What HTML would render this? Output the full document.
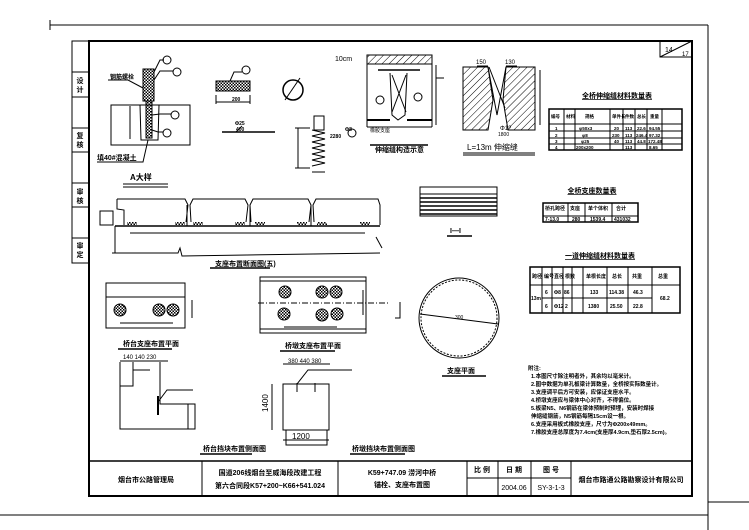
<!DOCTYPE html>
<html><head><meta charset="utf-8"><style>
html,body{margin:0;padding:0;background:#fff;}
svg{display:block;font-family:"Liberation Sans","Noto Sans CJK SC",sans-serif;}
text{fill:#000;}
.b{font-weight:bold;}
</style></head><body>
<svg width="749" height="530" viewBox="0 0 749 530" xmlns="http://www.w3.org/2000/svg">
<defs>
<pattern id="h" width="5" height="5" patternUnits="userSpaceOnUse" patternTransform="rotate(45)"><line x1="0" y1="0" x2="0" y2="5" stroke="#000" stroke-width="1"/></pattern>
<pattern id="x" width="3" height="3" patternUnits="userSpaceOnUse"><rect width="3" height="3" fill="#fff"/><rect width="1.5" height="1.5" fill="#000"/><rect x="1.5" y="1.5" width="1.5" height="1.5" fill="#000"/></pattern>
</defs>
<rect width="749" height="530" fill="#fff"/>
<g stroke="#000" stroke-width="1" fill="none">
<line x1="50" y1="25" x2="708" y2="25"/>
<line x1="50" y1="20" x2="50" y2="30"/>
<line x1="708" y1="25" x2="708" y2="530"/>
<line x1="0" y1="515" x2="708" y2="515"/>
<line x1="708" y1="502" x2="749" y2="502"/>
</g>
<rect x="89" y="41" width="603" height="455" fill="none" stroke="#000" stroke-width="2"/>
<g stroke="#000" stroke-width="1" fill="none">
<rect x="72" y="41" width="17" height="222"/>
<line x1="72" y1="72" x2="89" y2="72"/><line x1="72" y1="97" x2="89" y2="97"/>
<line x1="72" y1="128" x2="89" y2="128"/><line x1="72" y1="152" x2="89" y2="152"/>
<line x1="72" y1="183" x2="89" y2="183"/><line x1="72" y1="207" x2="89" y2="207"/>
<line x1="72" y1="238" x2="89" y2="238"/>
</g>
<g font-size="7" class="b" text-anchor="middle">
<text x="80" y="83">设</text><text x="80" y="92">计</text>
<text x="80" y="138">复</text><text x="80" y="147">核</text>
<text x="80" y="194">审</text><text x="80" y="203">核</text>
<text x="80" y="248">审</text><text x="80" y="257">定</text>
</g>
<rect x="660" y="41" width="32" height="16" fill="none" stroke="#000"/>
<line x1="660" y1="57" x2="692" y2="41" stroke="#000"/>
<text x="665" y="52" font-size="7">14</text><text x="682" y="56" font-size="6">17</text>

<g stroke="#000" fill="none" stroke-width="1">
<rect x="143" y="69" width="11" height="32" fill="url(#x)"/>
<rect x="146" y="101" width="6" height="37" fill="url(#x)"/>
<rect x="111" y="105" width="79" height="40"/>
<polyline points="140,105 141,140 158,140 159,105"/>
<line x1="130" y1="106" x2="130" y2="139"/>
<polyline points="154,72 160,60 164,60"/><circle cx="167" cy="60" r="4"/>
<polyline points="154,80 160,71 173,71"/><circle cx="177" cy="72" r="4"/>
<polyline points="152,115 160,114 171,114"/><circle cx="175" cy="115" r="4"/>
<polyline points="152,130 158,132 163,132"/><circle cx="167" cy="133" r="4"/>
<polyline points="143,88 128,80 108,80"/>
<polyline points="148,140 143,162 97,162"/>
<line x1="123" y1="184" x2="168" y2="184"/><line x1="123" y1="187" x2="168" y2="187"/>
</g>
<text x="110" y="79" font-size="6" class="b">钢筋螺栓</text>
<text x="97" y="160" font-size="7" class="b">填40#混凝土</text>
<text x="130" y="180" font-size="8" class="b">A大样</text>

<g stroke="#000" fill="none">
<rect x="216" y="81" width="34" height="10" fill="url(#x)"/>
<line x1="216" y1="95" x2="216" y2="104"/><line x1="250" y1="95" x2="250" y2="104"/><line x1="216" y1="102" x2="250" y2="102"/>
<polyline points="230,81 234,72 242,72"/><circle cx="246" cy="70" r="4"/>
<line x1="222" y1="132" x2="275" y2="132" stroke-width="1.5"/><line x1="236" y1="132" x2="242" y2="126"/>
<circle cx="293" cy="90" r="10" stroke-width="1.5"/><line x1="285" y1="100" x2="300" y2="78"/>
<polyline points="312,130 325,133 312,136 325,139 312,142 325,145 312,148 325,151 312,154 325,157 312,160 325,163 312,166"/>
<rect x="314" y="116" width="10" height="14"/>
<line x1="295" y1="128" x2="310" y2="128"/><line x1="295" y1="168" x2="310" y2="168"/><line x1="298" y1="128" x2="298" y2="168"/>
<line x1="312" y1="172" x2="325" y2="172"/>
<circle cx="352" cy="133" r="4"/>
</g>
<g font-size="5" class="b"><text x="232" y="101">200</text><text x="235" y="125">Φ25</text><text x="236" y="131">400</text><text x="345" y="131">Φ8</text><text x="330" y="138">2280</text></g>

<g stroke="#000" fill="none">
<rect x="367" y="55" width="65" height="9" fill="url(#h)"/>
<line x1="367" y1="64" x2="367" y2="127"/><line x1="432" y1="64" x2="432" y2="127"/>
<line x1="378" y1="70" x2="420" y2="70" stroke-width="1.5"/>
<polyline points="390,73 392,115 398,120 405,115 407,73"/>
<line x1="392" y1="75" x2="406" y2="112"/><line x1="406" y1="75" x2="392" y2="112"/>
<line x1="367" y1="120" x2="390" y2="120" stroke-width="2"/><line x1="407" y1="120" x2="432" y2="120" stroke-width="2"/>
<line x1="367" y1="127" x2="432" y2="127"/>
<line x1="436" y1="65" x2="436" y2="125"/><line x1="436" y1="78" x2="444" y2="78"/>
<circle cx="380" cy="100" r="4"/><circle cx="418" cy="97" r="4"/>
<line x1="370" y1="145" x2="428" y2="145" stroke-width="1.5"/>
<polygon points="463,67 488,67 493,100 488,130 463,130" fill="url(#h)"/>
<polygon points="506,67 535,67 535,130 508,130 503,100" fill="url(#h)"/>
<polyline points="488,67 497,115 506,67"/>
<line x1="489" y1="67" x2="505" y2="108"/>
<line x1="540" y1="70" x2="540" y2="125"/>
<line x1="463" y1="153" x2="535" y2="153"/><line x1="463" y1="155" x2="535" y2="155"/>
<line x1="477" y1="66" x2="488" y2="66"/><line x1="506" y1="66" x2="517" y2="66"/>
</g>
<text x="335" y="61" font-size="7">10cm</text>
<text x="370" y="132" font-size="5">橡胶支座</text>
<text x="375" y="152" font-size="7" class="b">伸缩缝构造示意</text>
<text x="476" y="64" font-size="6">150</text><text x="505" y="64" font-size="6">130</text>
<text x="500" y="130" font-size="6">Φ12</text><text x="498" y="136" font-size="5">1800</text>
<text x="467" y="150" font-size="8">L=13m 伸缩缝</text>

<text x="617" y="98" font-size="7" class="b" text-anchor="middle" text-decoration="underline">全桥伸缩缝材料数量表</text>
<g stroke="#000" fill="none">
<rect x="549" y="109" width="133" height="41" stroke-width="1.5"/>
<line x1="549" y1="124" x2="682" y2="124"/><line x1="549" y1="131" x2="682" y2="131"/><line x1="549" y1="138" x2="682" y2="138"/><line x1="549" y1="144" x2="682" y2="144"/>
<line x1="564" y1="109" x2="564" y2="150"/><line x1="575" y1="109" x2="575" y2="150"/><line x1="610" y1="109" x2="610" y2="150"/><line x1="623" y1="109" x2="623" y2="150"/><line x1="635" y1="109" x2="635" y2="150"/><line x1="647" y1="109" x2="647" y2="150"/><line x1="662" y1="109" x2="662" y2="150"/>
</g>
<g font-size="4.5" class="b">
<text x="551" y="118">编号</text><text x="566" y="118">材料</text><text x="585" y="118">规格</text><text x="612" y="118">单件长</text><text x="625" y="118">件数</text><text x="637" y="118">总长</text><text x="650" y="118">重量</text>
<text x="555" y="130">1</text><text x="579" y="130">φ50x3</text><text x="614" y="130">20</text><text x="625" y="130">113</text><text x="637" y="130">22.6</text><text x="649" y="130">94.55</text>
<text x="555" y="137">2</text><text x="582" y="137">φ8</text><text x="612" y="137">230</text><text x="625" y="137">113</text><text x="636" y="137">246.4</text><text x="649" y="137">97.32</text>
<text x="555" y="143">3</text><text x="581" y="143">φ25</text><text x="614" y="143">40</text><text x="625" y="143">113</text><text x="637" y="143">44.8</text><text x="648" y="143">172.48</text>
<text x="555" y="149">4</text><text x="576" y="149">200x200</text><text x="625" y="149">113</text><text x="649" y="149">8.65</text>
</g>

<g stroke="#000" fill="none">
<polyline points="117,199 117,209 124,210 124,225"/>
<polyline points="117,199 185,199 188,205 186,222"/>
<polyline points="191,222 190,205 193,199 245,199 248,205 246,222"/>
<polyline points="251,222 250,205 253,199 308,199 311,205 309,222"/>
<polyline points="314,222 313,205 316,199 378,199 380,205 380,225"/>
<rect x="100" y="211" width="13" height="14"/>
<line x1="115" y1="226" x2="380" y2="226" stroke-width="1.5"/>
<line x1="115" y1="226" x2="115" y2="253"/>
<polyline points="112,253 178,253 180,248 182,256 380,253"/>
<line x1="376" y1="237" x2="382" y2="248"/>
<line x1="130" y1="233" x2="270" y2="233"/><line x1="270" y1="233" x2="365" y2="233"/>
<line x1="187" y1="205" x2="187" y2="226"/><line x1="250" y1="205" x2="250" y2="226"/><line x1="311" y1="205" x2="311" y2="226"/>
<line x1="210" y1="268" x2="270" y2="268" stroke-width="1.5"/>
</g>
<g fill="url(#x)"><rect x="127" y="222" width="10" height="3"/><rect x="175" y="222" width="10" height="3"/><rect x="193" y="222" width="10" height="3"/><rect x="235" y="222" width="10" height="3"/><rect x="255" y="222" width="10" height="3"/><rect x="297" y="222" width="10" height="3"/><rect x="317" y="222" width="10" height="3"/><rect x="360" y="222" width="10" height="3"/></g>
<text x="215" y="266" font-size="7" class="b">支座布置断面图(五)</text>

<g stroke="#000" fill="none">
<rect x="420" y="187" width="77" height="29"/>
<line x1="420" y1="194" x2="497" y2="194"/>
<line x1="420" y1="198" x2="497" y2="198" stroke-width="1.5"/><line x1="420" y1="202" x2="497" y2="202" stroke-width="1.5"/><line x1="420" y1="206" x2="497" y2="206" stroke-width="1.5"/><line x1="420" y1="210" x2="497" y2="210" stroke-width="1.5"/><line x1="420" y1="214" x2="497" y2="214" stroke-width="1.5"/>
<line x1="447" y1="236" x2="472" y2="236" stroke-width="1.5"/>
</g>
<text x="450" y="233" font-size="7" class="b">I—I</text>

<text x="592" y="193" font-size="7" class="b" text-anchor="middle" text-decoration="underline">全桥支座数量表</text>
<g stroke="#000" fill="none"><rect x="543" y="203" width="95" height="19" stroke-width="1.5"/><line x1="543" y1="216" x2="638" y2="216"/><line x1="568" y1="203" x2="568" y2="222"/><line x1="585" y1="203" x2="585" y2="222"/><line x1="612" y1="203" x2="612" y2="222"/></g>
<g font-size="5" class="b"><text x="545" y="210">桥孔跨径</text><text x="570" y="210">支座</text><text x="588" y="210">单个体积</text><text x="616" y="210">合计</text><text x="545" y="221">7-13.0</text><text x="572" y="221">280</text><text x="590" y="221">1539.4</text><text x="614" y="221">431032</text></g>

<text x="600" y="258" font-size="7" class="b" text-anchor="middle" text-decoration="underline">一道伸缩缝材料数量表</text>
<g stroke="#000" fill="none"><rect x="530" y="267" width="150" height="46" stroke-width="1.5"/><line x1="530" y1="285" x2="680" y2="285"/><line x1="542" y1="298" x2="652" y2="298"/>
<line x1="542" y1="267" x2="542" y2="313"/><line x1="552" y1="267" x2="552" y2="313"/><line x1="563" y1="267" x2="563" y2="313"/><line x1="572" y1="267" x2="572" y2="313"/><line x1="583" y1="267" x2="583" y2="313"/><line x1="607" y1="267" x2="607" y2="313"/><line x1="628" y1="267" x2="628" y2="313"/><line x1="652" y1="267" x2="652" y2="313"/></g>
<g font-size="5" class="b"><text x="532" y="278">跨径</text><text x="544" y="278">编号</text><text x="554" y="278">直径</text><text x="565" y="278">根数</text><text x="586" y="278">单根长度</text><text x="612" y="278">总长</text><text x="632" y="278">共重</text><text x="658" y="278">总重</text>
<text x="531" y="300">13m</text><text x="545" y="294">6</text><text x="554" y="294">Φ8</text><text x="564" y="294">86</text><text x="590" y="294">133</text><text x="609" y="294">114.38</text><text x="633" y="294">46.3</text><text x="660" y="300">68.2</text>
<text x="545" y="308">6</text><text x="554" y="308">Φ12</text><text x="565" y="308">2</text><text x="588" y="308">1380</text><text x="610" y="308">25.50</text><text x="633" y="308">22.8</text></g>

<g stroke="#000" fill="none">
<rect x="106" y="283" width="79" height="45"/><line x1="106" y1="297" x2="185" y2="297"/>
<line x1="120" y1="323" x2="173" y2="323"/><line x1="192" y1="300" x2="192" y2="318"/>
<line x1="118" y1="349" x2="172" y2="349" stroke-width="1.5"/>
<rect x="260" y="277" width="106" height="56"/><line x1="260" y1="281" x2="366" y2="281"/><line x1="260" y1="329" x2="366" y2="329"/>
<line x1="258" y1="303" x2="390" y2="303" stroke-dasharray="6,2,1,2"/>
<line x1="284" y1="327" x2="322" y2="327"/><line x1="322" y1="327" x2="337" y2="327"/>
<line x1="363" y1="290" x2="363" y2="315"/>
<line x1="280" y1="351" x2="335" y2="351" stroke-width="1.5"/>
<circle cx="459" cy="318" r="40" stroke-width="1"/><circle cx="459" cy="318" r="38" stroke-dasharray="2,1.5"/>
<line x1="420" y1="314" x2="498" y2="324"/>
<polyline points="400,302 400,318 395,318"/>
<line x1="442" y1="376" x2="486" y2="376" stroke-width="1.5"/>
</g>
<g fill="url(#x)" stroke="#000"><circle cx="120" cy="310" r="6"/><circle cx="159" cy="310" r="6"/><circle cx="173" cy="310" r="6"/><circle cx="285" cy="292" r="6"/><circle cx="322" cy="292" r="6"/><circle cx="336" cy="292" r="6"/><circle cx="284" cy="314" r="6"/><circle cx="322" cy="315" r="6"/><circle cx="337" cy="314" r="6"/></g>
<text x="123" y="346" font-size="7" class="b">桥台支座布置平面</text>
<text x="285" y="348" font-size="7" class="b">桥墩支座布置平面</text>
<text x="447" y="373" font-size="7" class="b">支座平面</text>
<text x="455" y="319" font-size="5">300</text>

<g stroke="#000" fill="none">
<polyline points="120,362 120,429 195,429 195,404 160,404 160,362"/>
<polyline points="120,386 133,386 133,370 150,370"/>
<line x1="133" y1="362" x2="133" y2="370"/>
<line x1="158" y1="396" x2="158" y2="415" stroke-width="2"/>
<polyline points="158,402 167,390 193,390"/>
<line x1="188" y1="404" x2="188" y2="429"/>
<line x1="120" y1="361" x2="168" y2="361"/>
<line x1="200" y1="454" x2="252" y2="454" stroke-width="1.5"/>
</g>
<text x="123" y="359" font-size="6">140 140 230</text>
<text x="203" y="451" font-size="7" class="b">桥台挡块布置侧面图</text>

<g stroke="#000" fill="none">
<rect x="283" y="384" width="46" height="46"/>
<polyline points="286,430 286,445 327,445 327,430"/>
<line x1="297" y1="383" x2="297" y2="392"/><line x1="315" y1="383" x2="315" y2="392"/>
<polyline points="297,384 308,370 352,370"/>
<line x1="272" y1="384" x2="272" y2="430"/>
<line x1="283" y1="440" x2="329" y2="440"/>
<line x1="283" y1="364" x2="330" y2="364"/>
<line x1="350" y1="454" x2="405" y2="454" stroke-width="1.5"/>
</g>
<text x="288" y="363" font-size="6">380 440 380</text>
<text x="292" y="439" font-size="8">1200</text>
<text x="268" y="412" font-size="8" transform="rotate(-90 268 412)">1400</text>
<text x="352" y="451" font-size="7" class="b">桥墩挡块布置侧面图</text>

<g font-size="5.5" class="b">
<text x="528" y="370">附注:</text>
<text x="531" y="378">1.本图尺寸除注明者外，其余均以毫米计。</text>
<text x="531" y="386">2.图中数据为单孔板梁计算数量，全桥按实际数量计。</text>
<text x="531" y="394">3.支座调平后方可安装，应保证支座水平。</text>
<text x="531" y="402">4.桥墩支座应与梁体中心对齐，不得偏位。</text>
<text x="531" y="410">5.板梁N5、N6钢筋在梁体预制时预埋，安装时焊接</text>
<text x="531" y="418">伸缩缝钢筋，N5钢筋每隔15cm设一根。</text>
<text x="531" y="426">6.支座采用板式橡胶支座，尺寸为Φ200x49mm。</text>
<text x="531" y="434">7.橡胶支座总厚度为7.4cm(支座厚4.9cm,垫石厚2.5cm)。</text>
</g>

<g stroke="#000" fill="none">
<line x1="89" y1="461" x2="692" y2="461" stroke-width="1.5"/>
<line x1="202" y1="461" x2="202" y2="496"/><line x1="338" y1="461" x2="338" y2="496"/>
<line x1="467" y1="461" x2="467" y2="496"/><line x1="498" y1="461" x2="498" y2="496"/>
<line x1="531" y1="461" x2="531" y2="496"/><line x1="571" y1="461" x2="571" y2="496"/>
<line x1="467" y1="478" x2="571" y2="478"/>
</g>
<g font-size="7" class="b">
<text x="146" y="482" text-anchor="middle">烟台市公路管理局</text>
<text x="270" y="475" text-anchor="middle">国道206线烟台至威海段改建工程</text>
<text x="270" y="488" text-anchor="middle">第六合同段K57+200~K66+541.024</text>
<text x="402" y="475" text-anchor="middle">K59+747.09 涝河中桥</text>
<text x="402" y="487" text-anchor="middle">锚栓、支座布置图</text>
<text x="482" y="472" text-anchor="middle">比 例</text>
<text x="514" y="472" text-anchor="middle">日 期</text>
<text x="551" y="472" text-anchor="middle">图 号</text>
<text x="514" y="490" text-anchor="middle" font-weight="normal">2004.06</text>
<text x="551" y="490" text-anchor="middle" font-weight="normal">SY-3-1-3</text>
<text x="631" y="482" text-anchor="middle">烟台市路通公路勘察设计有限公司</text>
</g>
</svg>
</body></html>
